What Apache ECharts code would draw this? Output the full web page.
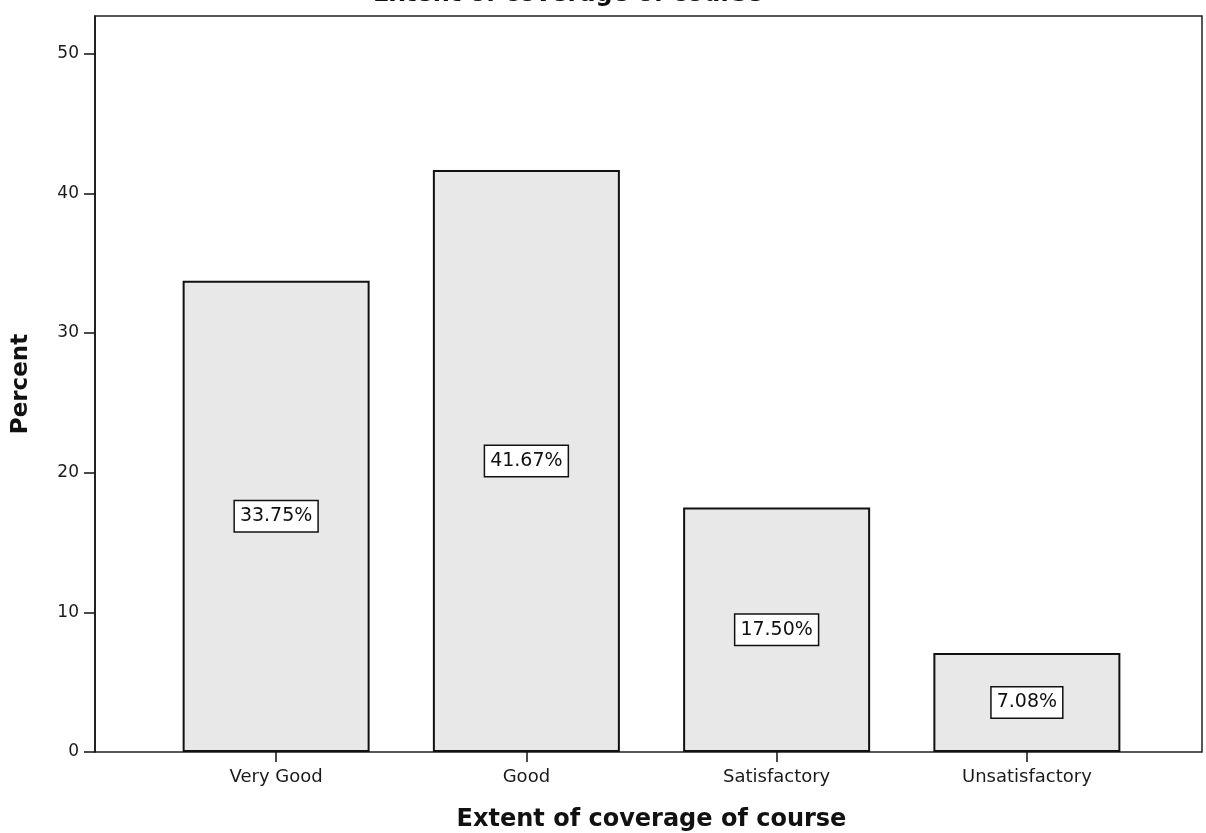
<!DOCTYPE html>
<html>
<head>
<meta charset="utf-8">
<script src="https://cdn.jsdelivr.net/npm/echarts@6/dist/echarts.min.js"></script>
<style>
  html, body { margin: 0; padding: 0; background: #fff; }
  #chart { width: 1206px; height: 833px; }
</style>
</head>
<body>
<div id="chart"></div>
<script>
// data
var categories = ["Very Good", "Good", "Satisfactory", "Unsatisfactory"];
var percents = [33.75, 41.67, 17.50, 7.08];
var yTicks = [0, 10, 20, 30, 40, 50];

var font = "DejaVu Sans, Verdana, sans-serif";
var chart = echarts.init(document.getElementById("chart"), null, { renderer: "canvas" });

var option = {
	backgroundColor: "#fff",
	animation: false,
	title: {
		text: "Extent of coverage of course",
		left: 368,
		top: -22,
		textStyle: { fontFamily: font, fontWeight: "bold", fontSize: 24, color: "#111" }
	},
	grid: [
		// outer frame with the value axis
		{ left: 95, right: 4, top: 16, bottom: 81, outerBoundsMode: "none", containLabel: false,
			show: true, borderColor: "#222", borderWidth: 1.5, backgroundColor: "transparent" },
		// the bars sit inside, a bit narrower
		{ left: 151, right: 54, top: 16, bottom: 81, outerBoundsMode: "none", containLabel: false }
	],
	xAxis: [
		{ gridIndex: 0, type: "value", show: false, min: 0, max: 1 },
		{
			gridIndex: 1,
			type: "category",
			data: categories,
			axisLine: { show: false },
			axisTick: { show: true, alignWithLabel: true, length: 10, lineStyle: { color: "#111", width: 1.5 } },
			axisLabel: { margin: 16, fontFamily: font, fontSize: 18, color: "#1a1a1a" },
			name: "Extent of coverage of course",
			nameLocation: "middle",
			nameGap: 56,
			nameTextStyle: { fontFamily: font, fontWeight: "bold", fontSize: 24, color: "#111" }
		}
	],
	yAxis: [
		{
			gridIndex: 0,
			type: "value",
			min: 0,
			max: 52.7,
			interval: 10,
			axisLine: { show: true, lineStyle: { color: "#111", width: 1.5 } },
			axisTick: { show: true, length: 11, customValues: yTicks, lineStyle: { color: "#111", width: 1.5 } },
			axisLabel: { customValues: yTicks, margin: 16, fontFamily: font, fontSize: 17, color: "#1a1a1a" },
			splitLine: { show: false },
			name: "Percent",
			nameLocation: "middle",
			nameGap: 62,
			nameTextStyle: { fontFamily: font, fontWeight: "bold", fontSize: 23, color: "#111" }
		},
		{ gridIndex: 1, type: "value", min: 0, max: 52.7, show: false }
	],
	series: [{
		type: "bar",
		xAxisIndex: 1,
		yAxisIndex: 1,
		data: percents,
		barWidth: 187,
		itemStyle: { color: "#e8e8e8", borderColor: "#111", borderWidth: 2 },
		label: {
			show: true,
			position: "inside",
			formatter: function (p) { return p.value.toFixed(2) + "%"; },
			fontFamily: font,
			fontSize: 19,
			color: "#111",
			backgroundColor: "#fff",
			borderColor: "#111",
			borderWidth: 1.5,
			padding: [6, 5, 5, 5]
		}
	}]
};

chart.setOption(option);
</script>
</body>
</html>
